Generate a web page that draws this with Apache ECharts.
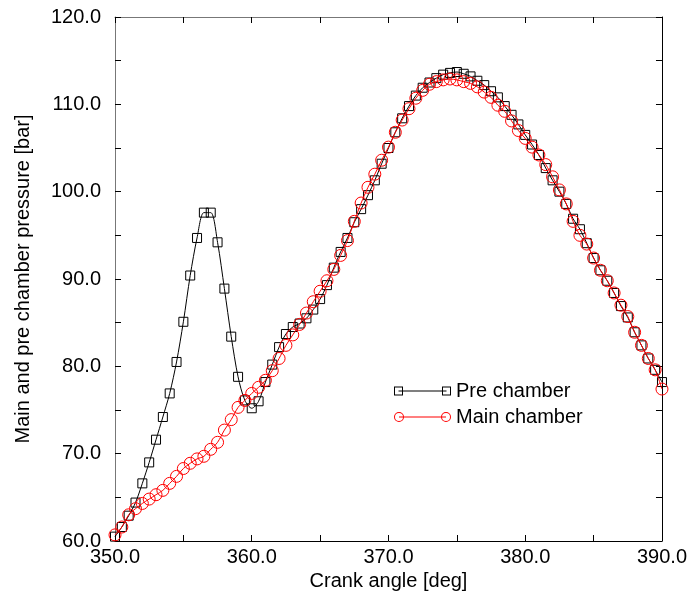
<!DOCTYPE html>
<html>
<head>
<meta charset="utf-8">
<script src="https://cdn.jsdelivr.net/npm/echarts@6/dist/echarts.min.js"></script>
<style>
  html, body { margin: 0; padding: 0; background: #fff; }
  #chart { width: 690px; height: 601px; }
</style>
</head>
<body>
<div id="chart"></div>
<script>
// Crank angle [deg]
const crankAngle = [
  350.0, 350.5, 351.0, 351.5, 352.0, 352.5, 353.0, 353.5, 354.0, 354.5,
  355.0, 355.5, 356.0, 356.5, 357.0, 357.5, 358.0, 358.5, 359.0, 359.5,
  360.0, 360.5, 361.0, 361.5, 362.0, 362.5, 363.0, 363.5, 364.0, 364.5,
  365.0, 365.5, 366.0, 366.5, 367.0, 367.5, 368.0, 368.5, 369.0, 369.5,
  370.0, 370.5, 371.0, 371.5, 372.0, 372.5, 373.0, 373.5, 374.0, 374.5,
  375.0, 375.5, 376.0, 376.5, 377.0, 377.5, 378.0, 378.5, 379.0, 379.5,
  380.0, 380.5, 381.0, 381.5, 382.0, 382.5, 383.0, 383.5, 384.0, 384.5,
  385.0, 385.5, 386.0, 386.5, 387.0, 387.5, 388.0, 388.5, 389.0, 389.5,
  390.0
];

// Pre chamber pressure [bar]
const preChamber = [
  60.5, 61.6, 62.9, 64.4, 66.6, 69.0, 71.6, 74.2, 76.9, 80.5,
  85.1, 90.4, 94.7, 97.6, 97.6, 94.2, 88.9, 83.4, 78.8, 76.1,
  75.2, 76.0, 78.2, 80.2, 82.2, 83.7, 84.5, 84.9, 85.5, 86.5,
  87.7, 89.3, 91.3, 93.1, 94.7, 96.5, 98.0, 99.6, 101.3, 103.2,
  105.0, 106.8, 108.4, 109.8, 111.0, 111.9, 112.5, 113.0, 113.4, 113.6,
  113.7, 113.5, 113.2, 112.7, 112.2, 111.5, 110.8, 109.8, 108.8, 107.7,
  106.5, 105.4, 104.2, 102.7, 101.3, 100.0, 98.6, 96.9, 95.7, 94.1,
  92.4, 91.0, 89.8, 88.4, 86.9, 85.6, 83.9, 82.4, 80.9, 79.6,
  78.2
];

// Main chamber pressure [bar]
const mainChamber = [
  60.7, 61.6, 63.0, 63.7, 64.3, 64.8, 65.3, 65.8, 66.6, 67.4,
  68.3, 68.9, 69.4, 69.7, 70.5, 71.3, 72.7, 73.9, 75.3, 76.1,
  76.9, 77.6, 78.4, 79.5, 80.9, 82.4, 83.6, 84.8, 86.1, 87.4,
  88.6, 89.8, 91.1, 92.7, 94.4, 96.6, 98.7, 100.5, 102.0, 103.6,
  105.1, 106.8, 108.2, 109.5, 110.7, 111.6, 112.3, 112.6, 112.8, 112.9,
  112.8, 112.6, 112.4, 112.0, 111.4, 110.8, 109.9, 109.2, 108.1, 107.0,
  106.1, 105.1, 104.2, 103.1, 101.7, 100.2, 98.6, 96.6, 95.0, 94.0,
  92.4, 91.0, 89.8, 88.4, 87.0, 85.7, 83.9, 82.4, 80.9, 79.6,
  77.4
];

const seriesNames = ['Pre chamber', 'Main chamber'];
const xAxisName = 'Crank angle [deg]';
const yAxisName = 'Main and pre chamber pressure [bar]';

const FONT = '"Liberation Sans", Arial, Helvetica, sans-serif';

function pairs(xs, ys) { return xs.map((x, i) => [x, ys[i]]); }

// legend icons: hollow markers at both ends joined by a line
const squareIcon = 'path://M0 0H9V9H0Z M1 1V8H8V1Z M4.5 4H52.5V5H4.5Z M48 0H57V9H48Z M49 1V8H56V1Z';
const circleIcon = 'path://M0 5A5 5 0 1 1 10 5A5 5 0 1 1 0 5Z M1 5A4 4 0 1 0 9 5A4 4 0 1 0 1 5Z M5 4.5H52V5.5H5Z M47 5A5 5 0 1 1 57 5A5 5 0 1 1 47 5Z M48 5A4 4 0 1 0 56 5A4 4 0 1 0 48 5Z';

const tickCommon = { show: true, inside: true, length: 6, lineStyle: { color: '#000', width: 1 } };
const minorCommon = { show: true, splitNumber: 2, length: 6, lineStyle: { color: '#000', width: 1 } };

const chart = echarts.init(document.getElementById('chart'), null, { renderer: 'canvas' });
chart.setOption({
  backgroundColor: '#ffffff',
  animation: false,
  textStyle: { fontFamily: FONT },
  grid: { left: 115, right: 27, top: 17, bottom: 60, containLabel: false },
  legend: {
    orient: 'vertical',
    left: 394,
    top: 381,
    padding: 0,
    itemWidth: 57,
    itemHeight: 10,
    itemGap: 6,
    textStyle: { fontSize: 20, color: '#000', fontFamily: FONT, lineHeight: 20 },
    data: [
      { name: seriesNames[0], icon: squareIcon, itemStyle: { color: '#000', borderWidth: 0 } },
      { name: seriesNames[1], icon: circleIcon, itemStyle: { color: '#ff0000', borderWidth: 0 } }
    ]
  },
  xAxis: [
    {
      type: 'value', min: 350, max: 390, interval: 10,
      name: xAxisName, nameLocation: 'middle', nameGap: 30,
      nameTextStyle: { fontSize: 20, color: '#000', fontFamily: FONT },
      axisLine: { show: true, lineStyle: { color: '#000', width: 1 } },
      axisTick: tickCommon,
      minorTick: minorCommon,
      splitLine: { show: false },
      axisLabel: { fontSize: 20, color: '#000', margin: 6, formatter: v => v.toFixed(1), fontFamily: FONT }
    },
    {
      type: 'value', min: 350, max: 390, interval: 10, position: 'top',
      axisLine: { show: true, lineStyle: { color: '#777', width: 1 } },
      axisTick: tickCommon,
      minorTick: minorCommon,
      splitLine: { show: false },
      axisLabel: { show: false }
    }
  ],
  yAxis: [
    {
      type: 'value', min: 60, max: 120, interval: 10,
      name: yAxisName, nameLocation: 'middle', nameGap: 82,
      nameTextStyle: { fontSize: 20, color: '#000', fontFamily: FONT },
      axisLine: { show: true, lineStyle: { color: '#777', width: 1 } },
      axisTick: tickCommon,
      minorTick: minorCommon,
      splitLine: { show: false },
      axisLabel: { fontSize: 20, color: '#000', margin: 14, formatter: v => v.toFixed(1), fontFamily: FONT }
    },
    {
      type: 'value', min: 60, max: 120, interval: 10, position: 'right',
      axisLine: { show: true, lineStyle: { color: '#000', width: 1 } },
      axisTick: tickCommon,
      minorTick: minorCommon,
      splitLine: { show: false },
      axisLabel: { show: false }
    }
  ],
  series: [
    {
      name: seriesNames[0],
      type: 'line',
      xAxisIndex: 0, yAxisIndex: 0,
      data: pairs(crankAngle, preChamber),
      smooth: 0.3,
      symbol: 'rect',
      symbolSize: 9,
      lineStyle: { color: '#000', width: 1 },
      itemStyle: { color: 'rgba(0,0,0,0)', borderColor: '#000', borderWidth: 1 },
      emphasis: { disabled: true },
      z: 2
    },
    {
      name: seriesNames[1],
      type: 'line',
      xAxisIndex: 0, yAxisIndex: 0,
      data: pairs(crankAngle, mainChamber),
      smooth: 0.3,
      symbol: 'circle',
      symbolSize: 12,
      lineStyle: { color: '#ff0000', width: 1 },
      itemStyle: { color: 'rgba(0,0,0,0)', borderColor: '#ff0000', borderWidth: 1 },
      emphasis: { disabled: true },
      z: 3
    }
  ]
});
</script>
</body>
</html>
